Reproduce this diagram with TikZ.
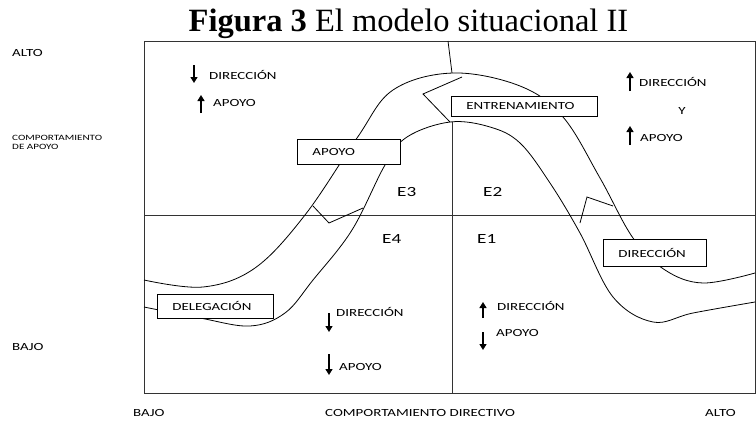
\documentclass[tikz,border=0pt]{standalone}
\usepackage{fontspec}
\setmainfont{Liberation Serif}
\newfontfamily\lbl[FakeStretch=1.37]{Carlito}
\usetikzlibrary{arrows.meta}
\tikzset{
  lab/.style={font=\lbl\fontsize{10.9}{12}\selectfont, inner sep=0pt, anchor=base west},
  smalllab/.style={font=\lbl\fontsize{8.1}{9}\selectfont, inner sep=0pt, anchor=base west},
  elab/.style={font=\lbl\fontsize{14}{16}\selectfont, inner sep=0pt, anchor=base west},
  labelbox/.style={draw=black, fill=white, line width=0.9pt, anchor=north west, align=left,
    inner xsep=15pt, inner ysep=0pt, font=\lbl\fontsize{10.9}{12}\selectfont},
  band/.style={line width=0.8pt, black},
  gridline/.style={line width=1pt, black!80},
  bigarrow/.style={-{Triangle[width=7pt,length=6pt]}, line width=1.3pt},
}
\begin{document}
\begin{tikzpicture}[x=1pt,y=-1pt]
\useasboundingbox (0,0) rectangle (756,426);
% title
\node[font=\fontsize{32.5}{36}\selectfont, anchor=base, inner sep=0pt] (title) at (408.5,31.5)
  {\textbf{Figura 3} El modelo situacional II};
% frame and quadrant lines
\draw[gridline] (144,41) rectangle (755,393);
\draw[gridline] (144,215) -- (755,215);
\draw[gridline] (452,122) -- (452,393);
\draw[band] (448,41) -- (452,73);
% band: outer curve
\draw[band] plot[smooth, tension=0.6] coordinates {
 (144,280) (203,287) (255,268) (305,215) (357,138) (393,90) (453,73)
 (520,86) (563,117) (600,178) (633,238) (665,270) (703,283) (755,273)};
% band: inner curve
\draw[band] plot[smooth, tension=0.6] coordinates {
 (144,307) (200,318) (250,326) (285,313) (313,280) (352,230) (385,165)
 (407,137) (450,122) (490,127) (520,143) (550,183) (580,233) (613,297)
 (653,322) (693,313) (755,302)};
% chevrons
\draw[band] (313,206) -- (329,223) -- (363,208);
\draw[band] (462,77) -- (423,94) -- (450,122);
\draw[band] (580,223) -- (587,197) -- (613,206);
% boxes
\node[labelbox, text width=73pt, minimum height=25pt] (bApoyo) at (297,139) {APOYO};
\node[labelbox, text width=116pt, minimum height=20pt] (bEntren) at (451,96) {ENTRENAMIENTO};
\node[labelbox, text width=73pt, minimum height=27pt] (bDirec) at (603,239) {DIRECCI\'ON};
\node[labelbox, text width=86pt, minimum height=24pt] (bDeleg) at (157,294) {DELEGACI\'ON};
% axis labels
\node[lab] (altoL) at (12,56.5) {ALTO};
\node[smalllab] (compL1) at (12,140.6) {COMPORTAMIENTO};
\node[smalllab] (compL2) at (12,149.6) {DE APOYO};
\node[lab] (bajoL) at (12,350.5) {BAJO};
\node[lab] (bajoB) at (133,416.5) {BAJO};
\node[lab] (compB) at (325,416.5) {COMPORTAMIENTO DIRECTIVO};
\node[lab] (altoB) at (705,416.5) {ALTO};
% quadrant names
\node[elab] (e3) at (397,196.5) {E3};
\node[elab] (e2) at (483,196.5) {E2};
\node[elab] (e4) at (382,243.5) {E4};
\node[elab] (e1) at (477,243.5) {E1};
% top-left quadrant
\draw[bigarrow] (194,65) -- (194,83);
\node[lab] (dTL) at (209,79.5) {DIRECCI\'ON};
\draw[bigarrow] (201,113) -- (201,95);
\node[lab] (aTL) at (213,106.5) {APOYO};
% top-right quadrant
\draw[bigarrow] (630,91) -- (630,72);
\node[lab] (dTR) at (639,86.5) {DIRECCI\'ON};
\node[lab, anchor=base] (yTR) at (682,114.5) {Y};
\draw[bigarrow] (630,145) -- (630,126);
\node[lab] (aTR) at (640,141.5) {APOYO};
% bottom-left quadrant
\draw[bigarrow] (329,313) -- (329,332);
\node[lab] (dBL) at (336,316.5) {DIRECCI\'ON};
\draw[bigarrow] (329,354) -- (329,375);
\node[lab] (aBL) at (339,370.5) {APOYO};
% bottom-right quadrant
\draw[bigarrow] (483,318) -- (483,302);
\node[lab] (dBR) at (497,310.5) {DIRECCI\'ON};
\draw[bigarrow] (483,332) -- (483,350);
\node[lab] (aBR) at (496,336.5) {APOYO};
\end{tikzpicture}
\end{document}
